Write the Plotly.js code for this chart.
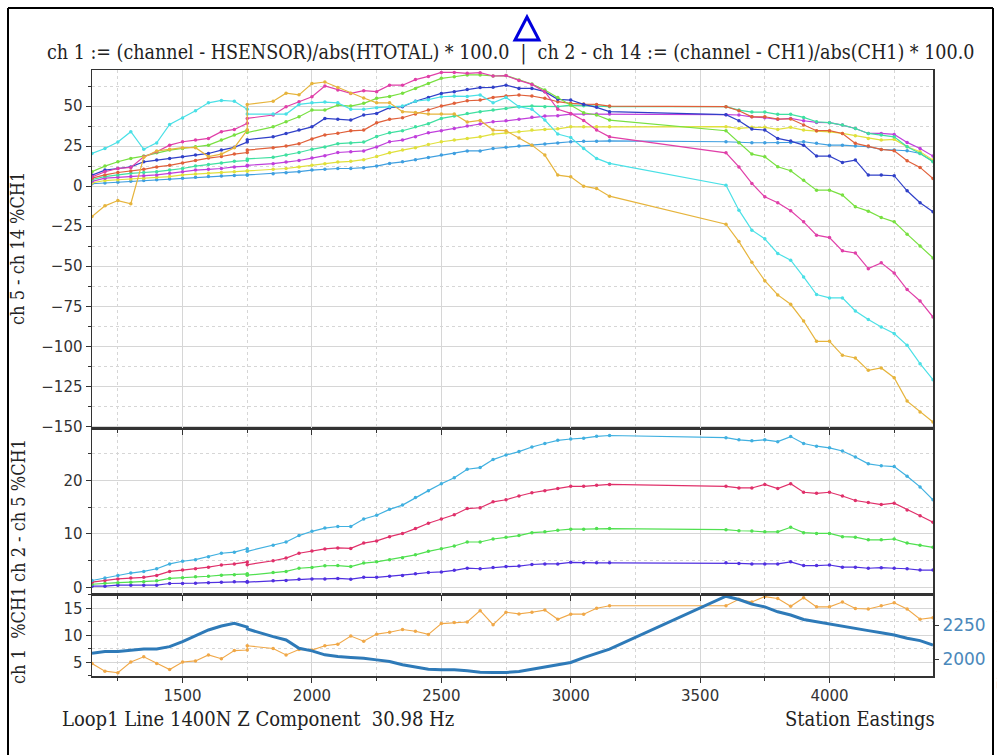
<!DOCTYPE html>
<html>
<head>
<meta charset="utf-8">
<script src="https://cdn.plot.ly/plotly-3.0.1.min.js"></script>
<style>
  html, body { margin: 0; padding: 0; background: #ffffff; }
  #chart { width: 997px; height: 755px; }
</style>
</head>
<body>
<div id="chart"></div>
<script>
// Station eastings (two readings at 1750, gap 3150-3600)
const stations = [1150,1200,1250,1300,1350,1400,1450,1500,1550,1600,1650,1700,1750,1750,
  1850,1900,1950,2000,2050,2100,2150,2200,2250,2300,2350,2400,2450,2500,2550,2600,2650,2700,2750,
  2800,2850,2900,2950,3000,3050,3100,3150,
  3600,3650,3700,3750,3800,3850,3900,3950,4000,4050,4100,4150,4200,4250,4300,4350,4400];

// Top panel: ch 5 - ch 14 (%CH1)
const ch5  = [1.5,2,2.5,3,3.5,4,4.5,5,5.5,6,6.3,6.7,7,7,7.8,8.3,9,10,10.5,11,11,11.5,12.5,14.2,15.2,16.5,17.9,19.4,20.4,22,22,23.5,24.2,25,25.6,26.25,27,27.7,28,28,28.3,27.7,27.3,27.1,27.1,27.1,27.3,27.7,26.7,25.6,25.6,25,24.6,22.9,22.5,22.1,20.4,15.6];
const ch6  = [2,3.5,4,4.5,5,5.5,6,7,7.5,8,8.5,9,9.5,9.5,10.5,11,12,13,14,15,15.5,16.5,18.5,20.8,22.5,24,26,27.7,28.75,29.8,30.8,32.5,33.3,34,35,35.4,35.8,37,37,37,37,37.1,36,36.7,36.7,35.4,36.7,35,34.4,33.9,32.9,31.5,29.8,28.75,29.2,24.6,21.5,16.25];
const ch7  = [3,5,5.5,6,6.5,7,8,9,10,10.5,11,12,12.5,13,14,15,16,17.5,19,21,21.5,22,24.5,27.7,28.75,30.8,33.3,34.6,36,37.5,38.75,40.2,40.8,41.7,43,43.75,44,45,45,45,45,44.6,44.4,43.3,42.7,41.7,42.3,40.8,39.8,39.6,38.1,36,32.9,32.9,32.3,27.3,23.5,18.75];
const ch8  = [4,6,7,8,8.5,9,10,11,12.5,13.5,14.5,15.5,16,17,18,19.5,21,23,24.5,26.5,27,27.5,31,33.3,34.6,37,39,42.3,43.75,45.4,46.5,47.5,48.5,49.6,50,49.6,49.6,50.6,50.2,50,49.6,49.6,47.5,46.25,46.25,44.8,44.8,42.9,40.2,39.6,38.1,36,32.9,31.9,30.8,24.6,20.4,15.2];
const ch9  = [5,7,8.5,9.5,10.5,12,13,14.5,16,17.5,18.5,20,21,22.5,24,25,26.5,29.5,32,33,34.5,35,39.5,41.7,42.7,45,47.5,50,51.7,53.3,53.75,55.4,56.25,56.9,56.25,54.8,52.7,51.7,51.25,51,50,49.6,47.1,43.3,43.3,41.9,41.9,38.1,34.6,34.6,32.9,26.7,25,22.9,22.1,15.8,11.7,4.8];
const ch10 = [6.9,10,11,12,15.2,16.25,17.3,18.3,19.4,20.4,22.5,24.2,27.5,29,30.8,32.9,35,37,42.3,41.7,41.25,44.4,45.4,49,49.6,53,55.4,57.9,59,60.4,61.5,61.7,63,61,61,59,54.2,53.75,51,49.2,46.5,44.6,40.8,35.6,35,29.8,28.1,25.6,18.75,18.75,14.8,16.25,6.9,6.9,6.5,-2.9,-10.4,-16];
const ch11 = [9,12.5,15.2,17.3,18.75,20.8,22.5,23.5,24.6,25.6,28.75,31.9,35,33.5,37,40.2,43.3,47.5,47.5,50.6,50,51.7,54.8,56,58,61,64,67.3,68.3,69.4,69.4,68.75,69,66.25,63.75,60,55.4,50.6,45.8,44.4,41.25,34.6,27.1,20,18.3,12.1,9.6,3.75,-2.5,-2.5,-5.6,-12.9,-15.6,-19.6,-22.3,-30,-37.3,-44.8];
const ch12 = [5.8,9,11,11.7,18.3,21.5,25.6,27.7,28.75,29.8,34,35.4,39.2,42.3,44.4,49.6,52.7,55.8,62.5,60,57.9,59.6,59,63,63,66.5,68.5,71,71,70.4,70.8,68.75,69,66,63.5,59,48,45.4,41,35,30.8,20.8,12,1.7,-6.7,-10.4,-15.4,-22.3,-30.6,-32.1,-40.4,-41.7,-51.5,-47.9,-54.2,-64.6,-71.7,-81.7];
const ch13 = [20.4,23.5,27.5,34,23,27,38.5,42.5,47,52,53.5,53,48,45,45,45,51,52,52.5,52,48,48,49,49.6,50,53,54,55.8,56.25,56,56.9,52,55.4,49.6,48,41.25,32.5,30.4,23.5,17.3,14.2,0.6,-15,-27.5,-32.9,-42,-46.25,-56.7,-67.7,-69.8,-69.8,-77.9,-83.3,-87.9,-92,-99.4,-110.8,-120.8];
const ch14 = [-19,-12.3,-9,-11,18,22,23,24,24,18.5,20,24,35,51,53,58,57,64,65,61.5,58,55,52,52,46.5,46,45,45,45,40,41,35,34.6,30,25.6,19.4,6.9,5.8,0,-1.5,-6.25,-23.75,-34.6,-47.5,-59,-67.9,-73.75,-84.2,-96.9,-96.9,-105.6,-107.3,-115,-113.5,-119.6,-134.2,-141,-147.3];

// Middle panel: ch 2 - ch 5 (%CH1)
const mid2 = [0.25,0.25,0.44,0.44,0.44,0.44,0.75,0.75,0.8,0.9,1.0,1.06,1.1,1.0,1.25,1.3,1.56,1.6,1.6,1.7,1.56,1.9,1.9,2.1,2.25,2.56,2.8,2.9,3.2,3.6,3.5,3.75,3.9,4,4.3,4.4,4.4,4.7,4.6,4.6,4.6,4.6,4.5,4.4,4.4,4.4,4.8,4.1,4.1,4.2,3.8,3.8,3.6,3.7,3.6,3.5,3.25,3.25];
const mid3 = [0.6,0.8,0.9,1,1.06,1.25,1.7,1.8,2,2.1,2.3,2.4,2.56,2.3,2.8,3,3.6,3.75,4.06,4.1,3.9,4.56,4.8,5.2,5.56,6.1,6.75,7.25,7.75,8.5,8.5,9.06,9.4,9.7,10.25,10.4,10.7,10.9,10.9,11,11,10.8,10.6,10.56,10.4,10.4,11.25,10.25,10.1,10.1,9.5,9.4,8.9,8.9,9.06,8.3,7.9,7.5];
const mid4 = [1.0,1.3,1.6,1.75,1.9,2.25,3,3.25,3.5,3.8,4.2,4.4,4.75,4.25,5,5.5,6.4,6.8,7.2,7.4,7.3,8.3,8.7,9.5,10.1,11,12,12.8,13.6,14.75,14.9,16,16.4,17.1,17.7,18.1,18.5,18.9,18.9,19.1,19.25,18.9,18.6,18.6,19.25,18.5,19.4,17.8,17.6,17.8,17.1,16.25,15.9,15.5,15.75,14.5,13.4,12.2];
const mid5 = [1.3,1.75,2.25,2.7,3,3.5,4.4,4.9,5.2,5.75,6.4,6.6,7.25,6.75,7.9,8.5,9.7,10.5,11.1,11.4,11.4,12.8,13.5,14.6,15.4,16.8,18.1,19.4,20.5,22.1,22.4,23.9,24.75,25.4,26.25,26.9,27.5,27.75,27.9,28.25,28.4,28,27.6,27.4,27.6,27.25,28.2,26.9,26.4,26.1,25.5,24.4,23.1,22.75,22.6,20.8,18.8,16.4];

// Bottom panel: ch 1 (%CH1) and elevation
const ch1 = [4.8,3.4,3.1,5.1,6.05,4.8,3.7,5.1,5.3,6.4,5.7,7.2,7.3,8.1,7.6,6.4,7.4,7.3,8.1,8.4,9.9,8.95,10.25,10.6,11.1,10.8,10.2,12.2,12.4,12.5,14.6,12.0,14.3,14.0,14.3,14.7,13.0,13.95,13.95,15.06,15.5,15.5,16.7,16.2,17.2,16.85,15.4,17.0,15.3,15.3,16.2,15.0,14.9,15.5,16.05,14.9,13.0,13.3];
const elevation = [2044,2056,2056,2068,2075,2075,2092,2129,2170,2214,2243,2262,2235,2221,2165,2141,2080,2061,2032,2019,2012,2007,1995,1983,1959,1943,1927,1922,1922,1915,1905,1903,1903,1910,1927,1942,1964,1976,2012,2044,2073,2461,2437,2403,2383,2347,2323,2291,2274,2257,2238,2221,2209,2194,2177,2153,2136,2104];

const topSeries = [
  {name:'ch 5', y: ch5, color:'#3f9fe0'},
  {name:'ch 6', y: ch6, color:'#e0e03c'},
  {name:'ch 7', y: ch7, color:'#c03fdc'},
  {name:'ch 8', y: ch8, color:'#3fe0a0'},
  {name:'ch 9', y: ch9, color:'#e0603a'},
  {name:'ch 10', y: ch10, color:'#3040c8'},
  {name:'ch 11', y: ch11, color:'#78e040'},
  {name:'ch 12', y: ch12, color:'#e03fa8'},
  {name:'ch 13', y: ch13, color:'#4ae0e6'},
  {name:'ch 14', y: ch14, color:'#e6b43c'}
];
const midSeries = [
  {name:'ch 2', y: mid2, color:'#5030e0'},
  {name:'ch 3', y: mid3, color:'#50e050'},
  {name:'ch 4', y: mid4, color:'#e0306a'},
  {name:'ch 5', y: mid5, color:'#40b0e0'}
];

const traces = [];
topSeries.forEach(s => traces.push({
  type:'scatter', mode:'lines+markers', x: stations, y: s.y, name: s.name,
  xaxis:'x3', yaxis:'y3', line:{color:s.color, width:1.2}, marker:{color:s.color, size:3.5}
}));
midSeries.forEach(s => traces.push({
  type:'scatter', mode:'lines+markers', x: stations, y: s.y, name: s.name,
  xaxis:'x2', yaxis:'y2', line:{color:s.color, width:1.2}, marker:{color:s.color, size:3.5}
}));
traces.push({type:'scatter', mode:'lines+markers', x: stations, y: ch1, name:'ch 1',
  xaxis:'x', yaxis:'y', line:{color:'#f0a848', width:1.1}, marker:{color:'#f0a848', size:3.5}});
traces.push({type:'scatter', mode:'lines', x: stations, y: elevation, name:'Elevation',
  xaxis:'x', yaxis:'y4', line:{color:'#2e7ab8', width:3}});

const tickFont = {family:'DejaVu Sans, sans-serif', size:15, color:'#333'};
const serif = 'DejaVu Serif Condensed, DejaVu Serif, serif';
const gridC = '#d6d6d6';

function xax(extra) {
  return Object.assign({
    range:[1150,4400], dtick:500, tick0:1000, ticks:'outside', ticklen:5, tickcolor:'#333',
    showline:true, mirror:true, linecolor:'#333', linewidth:1.5,
    showgrid:true, gridcolor:gridC, gridwidth:1, zeroline:false, tickfont:tickFont,
    minor:{dtick:250, tick0:1000, ticks:'outside', ticklen:3, tickcolor:'#333', showgrid:true, gridcolor:gridC, griddash:'dot'}
  }, extra);
}
function yax(extra, minorDtick) {
  return Object.assign({
    ticks:'outside', ticklen:5, tickcolor:'#333',
    showline:true, mirror:true, linecolor:'#333', linewidth:1.5,
    showgrid:true, gridcolor:gridC, gridwidth:1, zeroline:false, tickfont:tickFont,
    minor:{dtick:minorDtick, ticks:'outside', ticklen:3, tickcolor:'#333', showgrid:true, gridcolor:gridC, griddash:'dot'}
  }, extra);
}

// pixel helpers for decoration positions (plot area 92..933 x 70..676)
const px = v => (v - 92) / 841;
const py = v => (676 - v) / 606;

const layout = {
  width:997, height:755,
  margin:{l:92, r:64, t:70, b:79},
  paper_bgcolor:'#ffffff', plot_bgcolor:'#ffffff',
  showlegend:false,
  xaxis: xax({anchor:'y', domain:[0,1]}),
  xaxis2: xax({anchor:'y2', matches:'x', showticklabels:false}),
  xaxis3: xax({anchor:'y3', matches:'x', showticklabels:false}),
  yaxis: yax({domain:[0,0.1337], range:[2.5,17.5], dtick:5, tick0:0}, 2.5),
  yaxis2: yax({domain:[0.1337,0.4092], range:[-1.4,29.8], dtick:10, tick0:0}, 5),
  yaxis3: yax({domain:[0.4092,1], range:[-151,72.5], dtick:25, tick0:0}, 12.5),
  yaxis4: {overlaying:'y', side:'right', anchor:'x', range:[1877,2470], tickvals:[2000,2250],
    ticks:'outside', ticklen:5, tickcolor:'#333', showgrid:false, zeroline:false, showline:false,
    tickfont:{family:'DejaVu Sans, sans-serif', size:17, color:'#4a88bb'}},
  annotations:[
    {text:'ch 1 := (channel - HSENSOR)/abs(HTOTAL) * 100.0  |  ch 2 - ch 14 := (channel - CH1)/abs(CH1) * 100.0',
     xref:'paper', yref:'paper', x:px(510), y:py(53), xanchor:'center', yanchor:'middle', showarrow:false,
     font:{family:serif, size:19.5, color:'#222'}},
    {text:'ch 5 - ch 14 %CH1', xref:'paper', yref:'paper', x:px(18), y:py(249), textangle:-90,
     xanchor:'center', yanchor:'middle', showarrow:false, font:{family:serif, size:18, color:'#222'}},
    {text:'ch 2 - ch 5 %CH1', xref:'paper', yref:'paper', x:px(18), y:py(511), textangle:-90,
     xanchor:'center', yanchor:'middle', showarrow:false, font:{family:serif, size:18, color:'#222'}},
    {text:'ch 1  %CH1', xref:'paper', yref:'paper', x:px(18), y:py(636), textangle:-90,
     xanchor:'center', yanchor:'middle', showarrow:false, font:{family:serif, size:18, color:'#222'}},
    {text:'Loop1 Line 1400N Z Component  30.98 Hz', xref:'paper', yref:'paper', x:px(60), y:py(719),
     xanchor:'left', yanchor:'middle', showarrow:false, font:{family:serif, size:20, color:'#222'}},
    {text:'Station Eastings', xref:'paper', yref:'paper', x:px(937), y:py(719),
     xanchor:'right', yanchor:'middle', showarrow:false, font:{family:serif, size:20, color:'#222'}},
    {text:'Elevation (m)', xref:'paper', yref:'paper', x:px(1004), y:py(640), textangle:-90,
     xanchor:'center', yanchor:'middle', showarrow:false, font:{family:'DejaVu Sans, sans-serif', size:15, color:'#4a88bb'}}
  ],
  shapes:[
    {type:'path', xref:'paper', yref:'paper',
     path:`M ${px(527)},${py(17)} L ${px(515)},${py(40)} L ${px(539)},${py(40)} Z`,
     line:{color:'#0000dd', width:3}},
    {type:'line', xref:'paper', yref:'paper', x0:px(8), x1:px(8), y0:py(8), y1:py(760), line:{color:'#000', width:2}},
    {type:'line', xref:'paper', yref:'paper', x0:px(8), x1:px(993), y0:py(8), y1:py(8), line:{color:'#000', width:2}},
    {type:'line', xref:'paper', yref:'paper', x0:px(993), x1:px(993), y0:py(8), y1:py(760), line:{color:'#000', width:2}}
  ]
};

Plotly.newPlot('chart', traces, layout, {displayModeBar:false, staticPlot:true});
</script>
</body>
</html>
